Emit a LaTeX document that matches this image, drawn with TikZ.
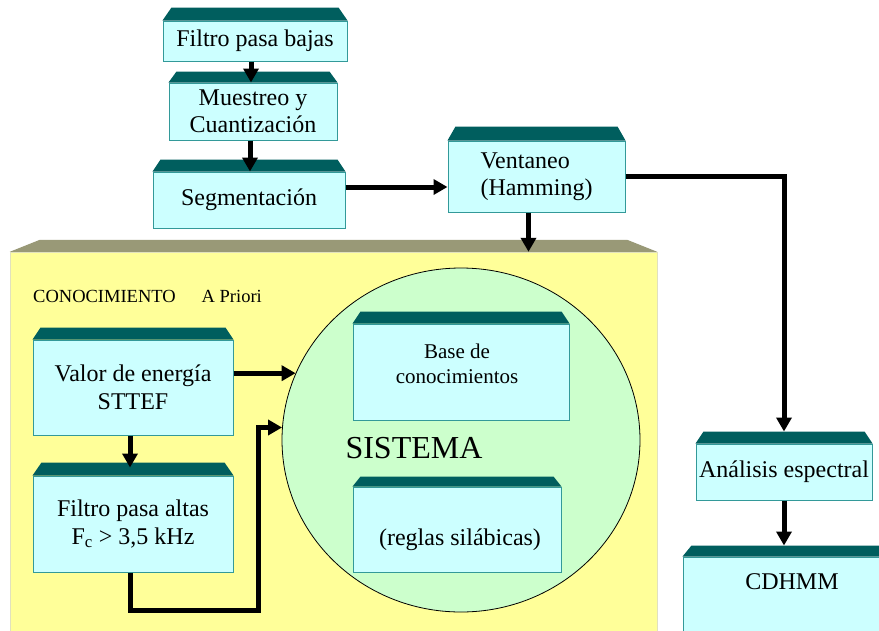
\documentclass[tikz,border=0pt]{standalone}
\usepackage{fontspec}
\setmainfont{Liberation Serif}
\usepackage{tikz}
\usepackage{xcolor}
\usetikzlibrary{arrows.meta, shapes.geometric}

\definecolor{cajafondo}{RGB}{204,255,255}
\definecolor{cajaborde}{RGB}{51,153,153}
\definecolor{techocolor}{RGB}{0,94,94}
\definecolor{panelfondo}{RGB}{255,255,153}
\definecolor{panelborde}{RGB}{225,225,190}
\definecolor{paneltecho}{RGB}{153,153,119}
\definecolor{circfondo}{RGB}{204,255,204}

% bevelled top of a box: node, inset, height
\newcommand{\techo}[4][techocolor]{%
  \fill[#1] (#2.north west) -- ([xshift=#3pt,yshift=#4pt]#2.north west)
    -- ([xshift=-#3pt,yshift=#4pt]#2.north east) -- (#2.north east) -- cycle;}

\begin{document}
\begin{tikzpicture}[x=1pt, y=-1pt, >={Triangle[length=14pt,width=15pt]},
    caja/.style={rectangle, fill=cajafondo, draw=cajaborde, line width=1pt,
        inner sep=0pt, align=center, font=\fontsize{24}{27.5}\selectfont},
    texto/.style={font=\fontsize{24}{27.5}\selectfont, inner sep=0pt},
    flecha/.style={->, line width=5pt}]
    \useasboundingbox (0,0) rectangle (879,630);
    \clip (0,0) rectangle (879,630);

    % Draw the panel and the circle
    \node[rectangle, fill=panelfondo, draw=panelborde, inner sep=0pt,
        minimum width=647pt, minimum height=390pt] (panel) at (333.5,447) {};
    \techo[paneltecho]{panel}{30}{12}
    \node[ellipse, fill=circfondo, draw=black, line width=0.8pt, inner sep=0pt,
        minimum width=358pt, minimum height=344pt] (circ) at (461,440) {};

    % Draw the boxes
    \node[caja, minimum width=184pt, minimum height=40pt] (fpb) at (255,41) {Filtro pasa bajas};
    \node[caja, minimum width=168pt, minimum height=57pt] (mue) at (253,111.5) {Muestreo y\\Cuantización};
    \node[caja, minimum width=192pt, minimum height=56pt] (seg) at (249,200) {Segmentación};
    \node[caja, minimum width=177pt, minimum height=71pt, align=left] (ven) at (536.5,176.5) {Ventaneo\\(Hamming)};
    \node[caja, minimum width=176pt, minimum height=56pt] (ana) at (784,472) {Análisis espectral};
    \node[caja, minimum width=218pt, minimum height=85pt] (cdh) at (792,599.5) {};
    \node[caja, minimum width=200pt, minimum height=95pt] (val) at (133,387.5) {Valor de energía\\STTEF};
    \node[caja, minimum width=200pt, minimum height=96pt] (fpa) at (133,524) {Filtro pasa altas\\F\textsubscript{c} > 3,5 kHz};
    \node[caja, minimum width=216pt, minimum height=96pt] (base) at (461,372) {};
    \node[caja, minimum width=208pt, minimum height=85pt] (reg) at (457,529.5) {};

    % Bevelled tops
    \foreach \n/\i/\h in {fpb/9/13, mue/8/11, seg/8/12, ven/8/14, ana/8/12,
        cdh/9/11, val/8/12, fpa/9/13, base/8/12, reg/8/10} {
        \techo{\n}{\i}{\h}
    }

    % Labels
    \node[texto] (cdhtxt) at (792,582) {CDHMM};
    \node[texto, align=center, font=\fontsize{21}{25}\selectfont] (basetxt) at (457,364) {Base de\\conocimientos};
    \node[texto] (regtxt) at (460,540) {(reglas silábicas)};
    \node[texto, font=\fontsize{32}{36}\selectfont] (sis) at (414,448) {SISTEMA};
    \node[texto, anchor=west, font=\fontsize{18.5}{21}\selectfont] (con) at (33,296)
        {CONOCIMIENTO\hspace{26pt}A Priori};

    % Draw the arrows
    \coordinate (cdhtop) at ([yshift=11pt]cdh.north);
    \coordinate (codo) at (258,610);
    \draw[flecha] ([xshift=-4pt]fpb.south) -- ([xshift=-4pt]fpb.south |- mue.north);
    \draw[flecha] ([xshift=-3pt]mue.south) -- ([xshift=-3pt]mue.south |- seg.north);
    \draw[flecha] ([yshift=13pt]seg.east) -- ([yshift=13pt]seg.east -| ven.west);
    \draw[flecha] ([xshift=-8pt]ven.south) -- ([xshift=-8pt]ven.south |- panel.north);
    \draw[flecha] (ven.east) -| ([yshift=12pt]ana.north);
    \draw[flecha] (ana.south) -- (ana.south |- cdhtop);
    \draw[flecha] ([xshift=-3pt]val.south) -- ([xshift=-3pt,yshift=8pt]fpa.north);
    \draw[flecha] (val.east |- circ.158) -- (circ.158);
    \draw[flecha] ([xshift=-3pt]fpa.south) |- (codo) |- (circ.176);

\end{tikzpicture}
\end{document}
